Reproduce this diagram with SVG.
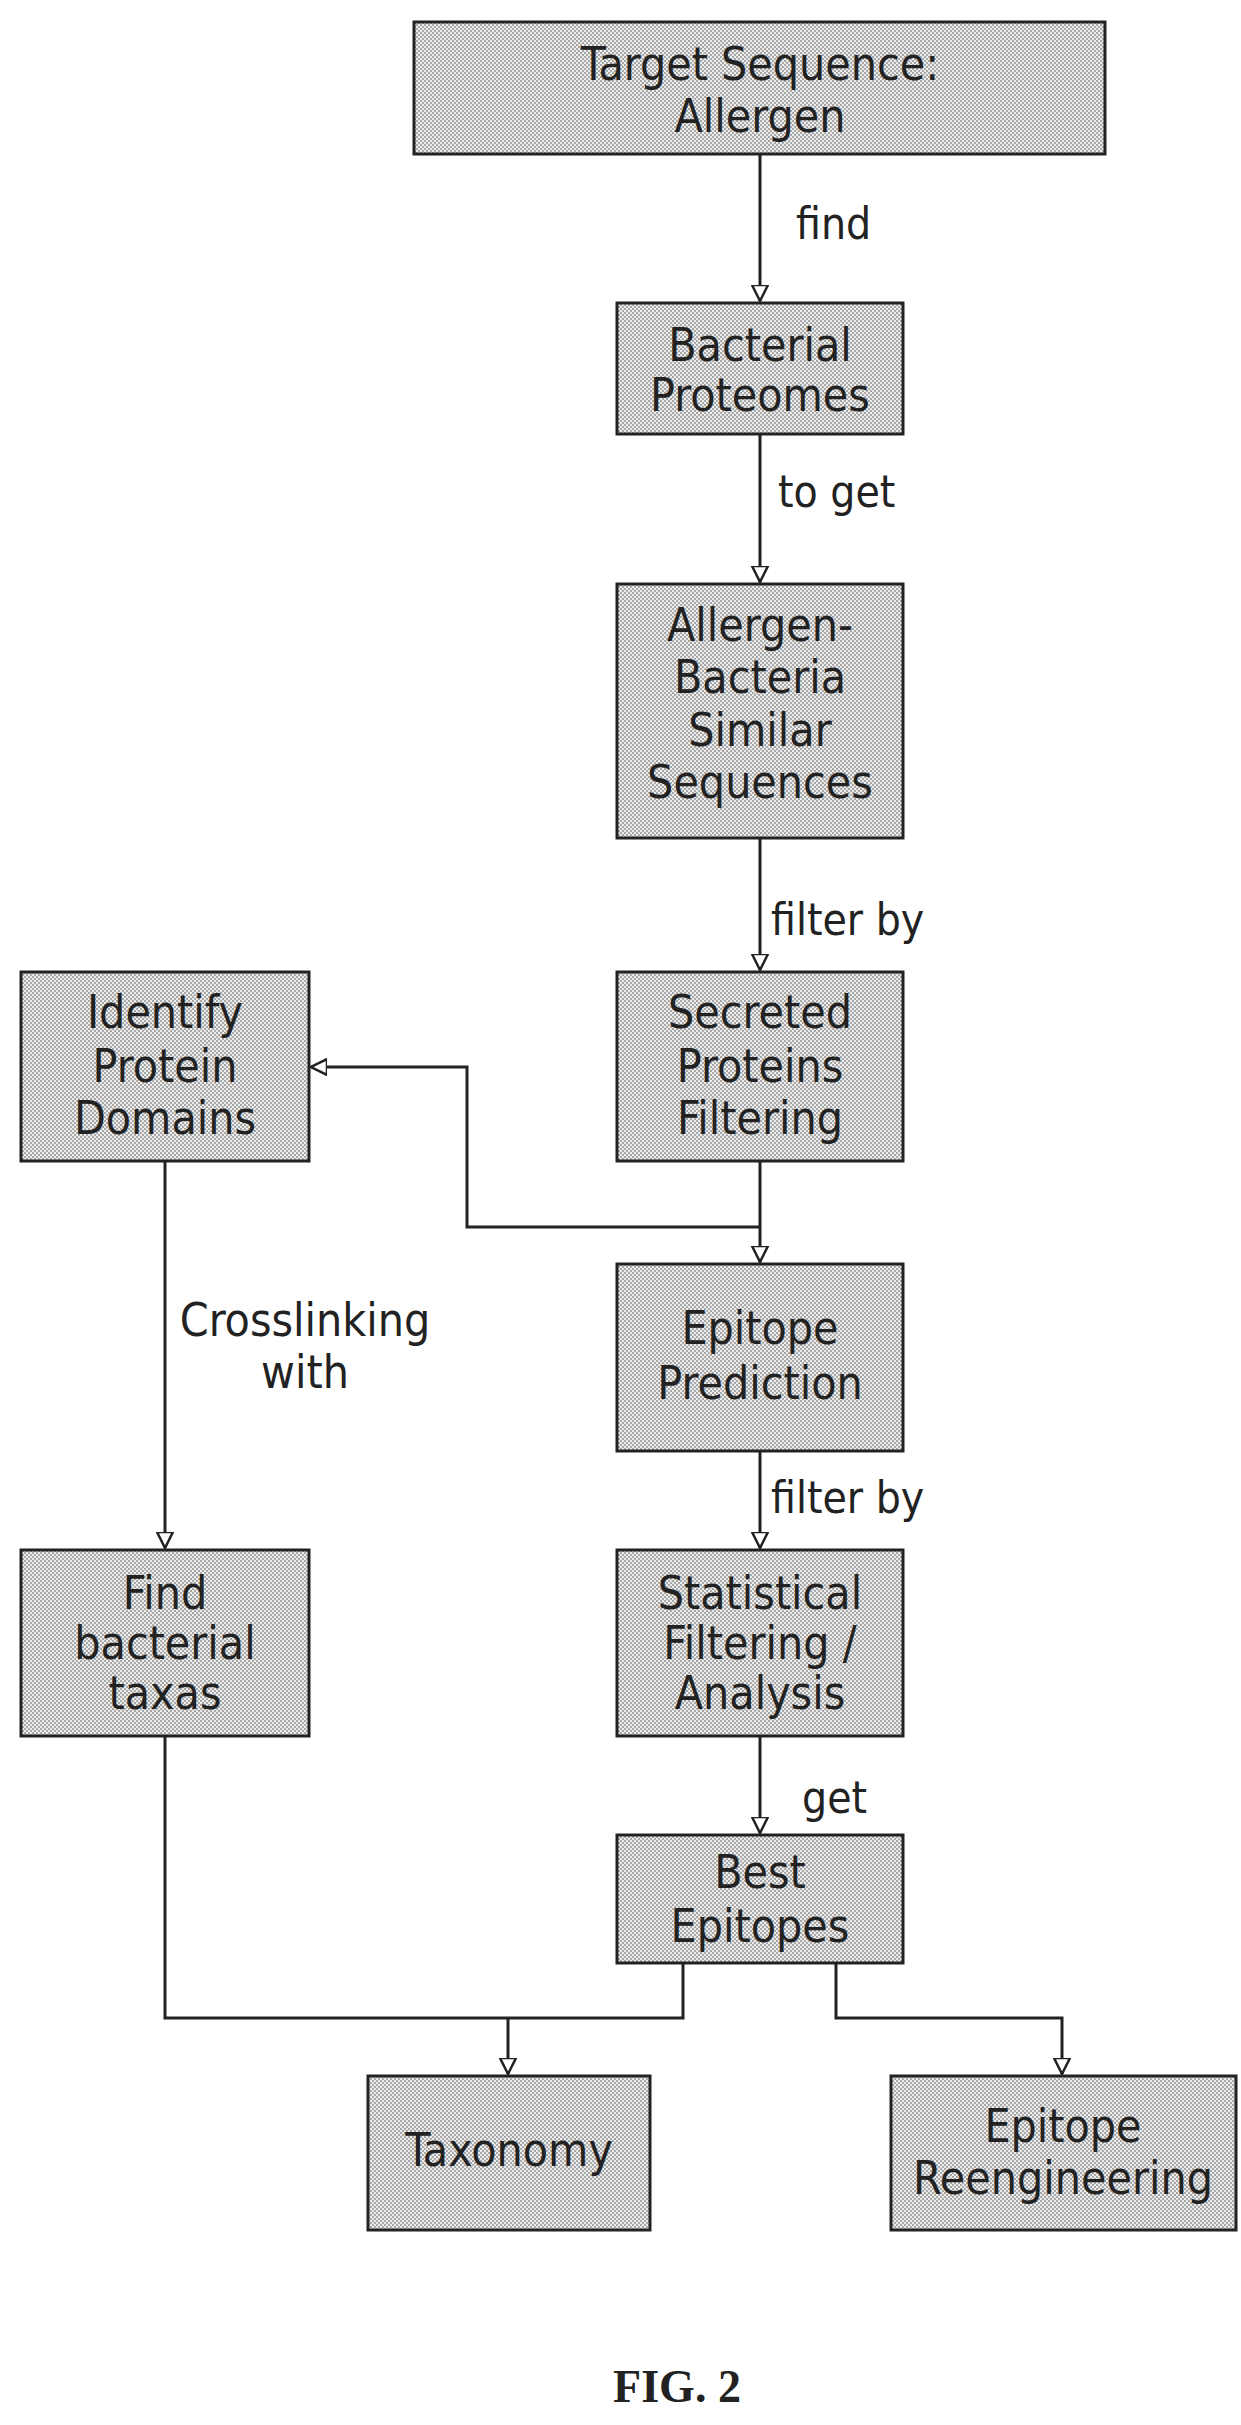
<svg xmlns="http://www.w3.org/2000/svg" width="1241" height="2425" viewBox="0 0 1241 2425">
<style>
.b{fill:url(#dots);stroke:#222;stroke-width:3}
.t{font-family:"Liberation Sans Narrow","DejaVu Sans Condensed","Liberation Sans",sans-serif;font-size:46px;fill:#222;text-anchor:middle;dominant-baseline:central}
.l{font-family:"Liberation Sans Narrow","DejaVu Sans Condensed","Liberation Sans",sans-serif;font-size:44px;fill:#222;dominant-baseline:central}
.c{fill:none;stroke:#222;stroke-width:3}
</style>
<defs>
<pattern id="dots" width="4" height="4" patternUnits="userSpaceOnUse">
<rect width="4" height="4" fill="#ececec"/><rect width="2" height="2" fill="#a8a8a8"/><rect x="2" y="2" width="2" height="2" fill="#a8a8a8"/>
</pattern>
<marker id="a" markerWidth="18" markerHeight="18" refX="16" refY="9" orient="auto" markerUnits="userSpaceOnUse">
<path d="M0,1 L16,9 L0,17 Z" fill="#fff" stroke="#222" stroke-width="2.5"/>
</marker>
</defs>
<g id="connectors">
<line class="c" x1="760" y1="154" x2="760" y2="301" marker-end="url(#a)"/>
<line class="c" x1="760" y1="434" x2="760" y2="582" marker-end="url(#a)"/>
<line class="c" x1="760" y1="838" x2="760" y2="970" marker-end="url(#a)"/>
<line class="c" x1="760" y1="1161" x2="760" y2="1262" marker-end="url(#a)"/>
<polyline class="c" points="760,1227 467,1227 467,1067 311,1067" marker-end="url(#a)"/>
<line class="c" x1="165" y1="1161" x2="165" y2="1548" marker-end="url(#a)"/>
<line class="c" x1="760" y1="1451" x2="760" y2="1548" marker-end="url(#a)"/>
<line class="c" x1="760" y1="1736" x2="760" y2="1833" marker-end="url(#a)"/>
<polyline class="c" points="165,1736 165,2018 683,2018 683,1963"/>
<line class="c" x1="508" y1="2018" x2="508" y2="2074" marker-end="url(#a)"/>
<polyline class="c" points="836,1963 836,2018 1062,2018 1062,2074" marker-end="url(#a)"/>
<text class="l" x="796" y="223">find</text>
<text class="l" x="778" y="491">to get</text>
<text class="l" x="771" y="919">filter by</text>
<text class="l" x="771" y="1497">filter by</text>
<text class="l" x="802" y="1797">get</text>
<text class="t" x="305" y="1320">Crosslinking</text>
<text class="t" x="305" y="1372">with</text>
</g>
<g id="n1"><rect class="b" x="414" y="22" width="691" height="132"/><text class="t" x="760" y="64">Target Sequence:</text><text class="t" x="760" y="116">Allergen</text></g>
<g id="n2"><rect class="b" x="617" y="303" width="286" height="131"/><text class="t" x="760" y="345">Bacterial</text><text class="t" x="760" y="395">Proteomes</text></g>
<g id="n3"><rect class="b" x="617" y="584" width="286" height="254"/><text class="t" x="760" y="625">Allergen-</text><text class="t" x="760" y="677">Bacteria</text><text class="t" x="760" y="730">Similar</text><text class="t" x="760" y="782">Sequences</text></g>
<g id="n4"><rect class="b" x="617" y="972" width="286" height="189"/><text class="t" x="760" y="1012">Secreted</text><text class="t" x="760" y="1066">Proteins</text><text class="t" x="760" y="1118">Filtering</text></g>
<g id="n5"><rect class="b" x="21" y="972" width="288" height="189"/><text class="t" x="165" y="1012">Identify</text><text class="t" x="165" y="1066">Protein</text><text class="t" x="165" y="1118">Domains</text></g>
<g id="n6"><rect class="b" x="617" y="1264" width="286" height="187"/><text class="t" x="760" y="1328">Epitope</text><text class="t" x="760" y="1383">Prediction</text></g>
<g id="n7"><rect class="b" x="21" y="1550" width="288" height="186"/><text class="t" x="165" y="1593">Find</text><text class="t" x="165" y="1643">bacterial</text><text class="t" x="165" y="1693">taxas</text></g>
<g id="n8"><rect class="b" x="617" y="1550" width="286" height="186"/><text class="t" x="760" y="1593">Statistical</text><text class="t" x="760" y="1643">Filtering /</text><text class="t" x="760" y="1693">Analysis</text></g>
<g id="n9"><rect class="b" x="617" y="1835" width="286" height="128"/><text class="t" x="760" y="1872">Best</text><text class="t" x="760" y="1926">Epitopes</text></g>
<g id="n10"><rect class="b" x="368" y="2076" width="282" height="154"/><text class="t" x="509" y="2150">Taxonomy</text></g>
<g id="n11"><rect class="b" x="891" y="2076" width="345" height="154"/><text class="t" x="1063" y="2126">Epitope</text><text class="t" x="1063" y="2178">Reengineering</text></g>
<text x="677" y="2402" font-family="Liberation Serif,serif" font-weight="bold" font-size="46" text-anchor="middle" fill="#222">FIG. 2</text>
</svg>
